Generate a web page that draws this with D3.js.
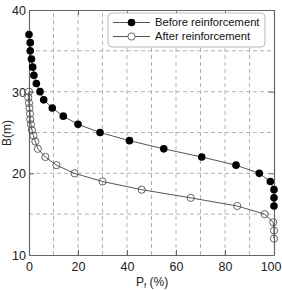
<!DOCTYPE html>
<html><head><meta charset="utf-8">
<script src="https://cdn.jsdelivr.net/npm/d3@7"></script>
<style>body{margin:0;background:#fff}svg{display:block}</style>
</head><body>
<script>
const xTicks = [0, 20, 40, 60, 80, 100];
const yTicks = [10, 20, 30, 40];
const xGrid = [10, 20, 30, 40, 50, 60, 70, 80, 90];
const yGrid = [15, 20, 25, 30, 35];
const seriesNames = ["Before reinforcement", "After reinforcement"];
const beforeB = [37, 36, 35, 34, 33, 32, 31, 30, 29, 28, 27, 26, 25, 24, 23, 22, 21, 20, 19, 18, 17, 16];
const beforeP = [0, 0.5, 0.5, 1, 1.5, 2, 3, 4.5, 6, 9.5, 14, 20, 29, 41, 55, 70.5, 84.5, 94, 98.5, 100, 100, 100];
const afterB = [30, 29.3, 28.6, 28, 27.3, 26.6, 26, 25.3, 24.6, 23.9, 23, 22, 21, 20, 19, 18, 17, 16, 15, 14, 13, 12];
const afterP = [0, -0.3, 0, 0.2, 0.4, 0.5, 0.8, 1.2, 1.8, 2.6, 3.6, 6.7, 11.2, 18.6, 30, 46, 66, 85, 96.2, 99.7, 100, 100];

const W = 282, H = 290;
const m = {l: 29, r: 8, t: 10, b: 35};
const svg = d3.select("body").append("svg").attr("width", W).attr("height", H);
const x = d3.scaleLinear().domain([0, 100]).range([m.l, W - m.r]);
const y = d3.scaleLinear().domain([10, 40]).range([H - m.b, m.t]);
const font = "Liberation Sans, Arial, sans-serif";
const axisCol = "#666";

// grid
svg.append("g").selectAll("line").data(xGrid).join("line")
  .attr("x1", d => x(d)).attr("x2", d => x(d)).attr("y1", y(10)).attr("y2", y(40))
  .attr("stroke", "#aaa").attr("stroke-dasharray", "4,3").attr("stroke-width", 0.9);
svg.append("g").selectAll("line").data(yGrid).join("line")
  .attr("y1", d => y(d)).attr("y2", d => y(d)).attr("x1", x(0)).attr("x2", x(100))
  .attr("stroke", "#aaa").attr("stroke-dasharray", "4,3").attr("stroke-width", 0.9);

// axes with inward ticks
const gx = svg.append("g").attr("transform", `translate(0,${y(10)})`)
  .call(d3.axisBottom(x).tickValues(xTicks).tickSizeInner(-5).tickSizeOuter(0).tickPadding(7));
const gxt = svg.append("g").attr("transform", `translate(0,${y(40)})`)
  .call(d3.axisTop(x).tickValues(xTicks).tickSizeInner(-5).tickSizeOuter(0).tickFormat(""));
const gy = svg.append("g").attr("transform", `translate(${x(0)},0)`)
  .call(d3.axisLeft(y).tickValues(yTicks).tickSizeInner(-5).tickSizeOuter(0).tickPadding(3));
const gyr = svg.append("g").attr("transform", `translate(${x(100)},0)`)
  .call(d3.axisRight(y).tickValues(yTicks).tickSizeInner(-5).tickSizeOuter(0).tickFormat(""));
[gx, gxt, gy, gyr].forEach(g => {
  g.selectAll("path").attr("stroke", axisCol).attr("stroke-width", 1.2);
  g.selectAll("line").attr("stroke", axisCol);
  g.selectAll("text").attr("font-family", font).attr("font-size", 12.5).attr("fill", "#222");
});
gy.selectAll("text").attr("dy", "0.35em");
// keep the last x label inside the window
gx.selectAll(".tick").filter(d => d === 100).select("text").attr("text-anchor", "end").attr("x", W - 1 - x(100));

// axis titles
const xt = svg.append("text").attr("x", 152).attr("y", 286).attr("text-anchor", "middle")
  .attr("font-family", font).attr("font-size", 12).attr("fill", "#222");
xt.append("tspan").text("P");
xt.append("tspan").attr("font-size", 8).attr("dy", 2).text("f");
xt.append("tspan").attr("dy", -2).text(" (%)");
svg.append("text").attr("transform", `translate(11,133) rotate(-90)`).attr("text-anchor", "middle")
  .attr("font-family", font).attr("font-size", 12).attr("fill", "#222").text("B(m)");

// series
const line = d3.line().x(d => x(d[0])).y(d => y(d[1]));
const before = beforeP.map((p, i) => [p, beforeB[i]]);
const after = afterP.map((p, i) => [p, afterB[i]]);
const lineCol = "#555";
svg.append("path").datum(before).attr("d", line).attr("fill", "none").attr("stroke", lineCol).attr("stroke-width", 1);
svg.append("path").datum(after).attr("d", line).attr("fill", "none").attr("stroke", lineCol).attr("stroke-width", 1);
svg.append("g").selectAll("circle").data(after).join("circle")
  .attr("cx", d => x(d[0])).attr("cy", d => y(d[1])).attr("r", 3.6)
  .attr("fill", "none").attr("stroke", lineCol).attr("stroke-width", 0.9);
svg.append("g").selectAll("circle").data(before).join("circle")
  .attr("cx", d => x(d[0])).attr("cy", d => y(d[1])).attr("r", 3.8).attr("fill", "#000");

// legend
const lg = svg.append("g");
lg.append("rect").attr("x", 108).attr("y", 13).attr("width", 157).attr("height", 34).attr("rx", 4)
  .attr("fill", "#fff").attr("stroke", "#bbb");
seriesNames.forEach((name, i) => {
  const yy = 22.5 + i * 14;
  lg.append("line").attr("x1", 113).attr("x2", 150).attr("y1", yy).attr("y2", yy).attr("stroke", lineCol);
  const c = lg.append("circle").attr("cx", 131.5).attr("cy", yy).attr("r", i === 0 ? 3.8 : 3.6);
  if (i === 0) c.attr("fill", "#000"); else c.attr("fill", "#fff").attr("stroke", lineCol).attr("stroke-width", 0.9);
  lg.append("text").attr("x", 155).attr("y", yy).attr("dy", "0.35em").attr("font-family", font)
    .attr("font-size", 11.2).attr("fill", "#111").text(name);
});
</script>
</body></html>
